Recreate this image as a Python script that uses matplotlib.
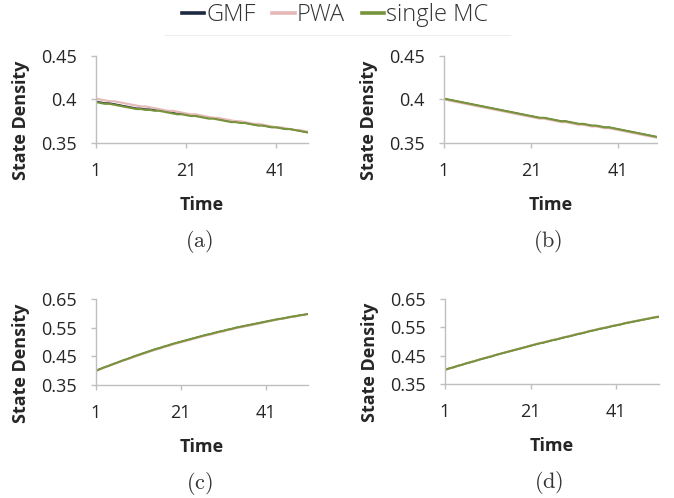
import matplotlib.pyplot as plt
from matplotlib.lines import Line2D

W, H = 674, 498
plt.rcParams['font.family'] = ['Open Sans', 'DejaVu Sans']
plt.rcParams['mathtext.fontset'] = 'cm'

# ---- data ----
t_a = list(range(1, 49))
gmf_a = [0.398, 0.397, 0.396, 0.396, 0.395, 0.394, 0.393, 0.392, 0.391, 0.390, 0.390, 0.389,
         0.389, 0.388, 0.388, 0.387, 0.386, 0.385, 0.384, 0.384, 0.383, 0.382, 0.382, 0.381,
         0.380, 0.379, 0.379, 0.378, 0.377, 0.376, 0.375, 0.375, 0.374, 0.373, 0.372, 0.371,
         0.371, 0.370, 0.369, 0.368, 0.368, 0.367, 0.366, 0.366, 0.365, 0.364, 0.363, 0.362]
pwa_a = [0.401, 0.400, 0.399, 0.398, 0.398, 0.397, 0.396, 0.395, 0.394, 0.393, 0.392, 0.392,
         0.391, 0.390, 0.389, 0.388, 0.387, 0.387, 0.386, 0.385, 0.384, 0.383, 0.383, 0.382,
         0.381, 0.380, 0.379, 0.379, 0.378, 0.377, 0.376, 0.375, 0.375, 0.374, 0.373, 0.372,
         0.372, 0.371, 0.370, 0.369, 0.368, 0.368, 0.367, 0.366, 0.365, 0.365, 0.364, 0.363]
mc_a = [0.397, 0.396, 0.395, 0.395, 0.394, 0.393, 0.392, 0.391, 0.390, 0.389, 0.389, 0.388,
        0.388, 0.387, 0.387, 0.386, 0.385, 0.384, 0.383, 0.383, 0.382, 0.381, 0.381, 0.380,
        0.379, 0.378, 0.378, 0.377, 0.376, 0.375, 0.374, 0.374, 0.373, 0.373, 0.372, 0.371,
        0.370, 0.370, 0.369, 0.368, 0.368, 0.367, 0.366, 0.366, 0.365, 0.364, 0.363, 0.362]

t_b = list(range(1, 51))
gmf_b = [0.401, 0.400, 0.399, 0.398, 0.397, 0.396, 0.395, 0.394, 0.393, 0.392,
         0.391, 0.390, 0.389, 0.388, 0.387, 0.386, 0.385, 0.384, 0.383, 0.382,
         0.381, 0.380, 0.379, 0.379, 0.378, 0.377, 0.376, 0.375, 0.375, 0.374,
         0.373, 0.372, 0.372, 0.371, 0.370, 0.370, 0.369, 0.368, 0.368, 0.367,
         0.366, 0.365, 0.364, 0.363, 0.362, 0.361, 0.360, 0.359, 0.358, 0.357]
pwa_b = [0.400, 0.399, 0.398, 0.397, 0.396, 0.395, 0.394, 0.393, 0.392, 0.391,
         0.390, 0.389, 0.388, 0.387, 0.386, 0.385, 0.384, 0.383, 0.382, 0.381,
         0.380, 0.379, 0.378, 0.378, 0.377, 0.376, 0.375, 0.374, 0.374, 0.373,
         0.372, 0.371, 0.371, 0.370, 0.369, 0.369, 0.368, 0.367, 0.367, 0.366,
         0.365, 0.364, 0.363, 0.362, 0.361, 0.360, 0.359, 0.358, 0.357, 0.356]
mc_b = [0.401, 0.400, 0.399, 0.398, 0.397, 0.396, 0.395, 0.394, 0.393, 0.392,
        0.391, 0.390, 0.389, 0.388, 0.387, 0.386, 0.385, 0.384, 0.383, 0.382,
        0.381, 0.380, 0.379, 0.379, 0.378, 0.377, 0.376, 0.375, 0.375, 0.374,
        0.373, 0.372, 0.372, 0.371, 0.370, 0.370, 0.369, 0.368, 0.368, 0.367,
        0.366, 0.365, 0.364, 0.363, 0.362, 0.361, 0.360, 0.359, 0.358, 0.357]

t_c = list(range(1, 52))
gmf_c = [0.400, 0.406, 0.412, 0.417, 0.423, 0.428, 0.434, 0.439, 0.444, 0.450,
         0.455, 0.460, 0.465, 0.470, 0.475, 0.479, 0.484, 0.488, 0.493, 0.497,
         0.501, 0.505, 0.509, 0.513, 0.517, 0.521, 0.525, 0.528, 0.532, 0.536,
         0.539, 0.543, 0.546, 0.550, 0.553, 0.556, 0.559, 0.562, 0.565, 0.568,
         0.571, 0.574, 0.577, 0.580, 0.582, 0.585, 0.588, 0.590, 0.593, 0.595, 0.598]
pwa_c = [0.399, 0.405, 0.411, 0.416, 0.422, 0.427, 0.433, 0.438, 0.443, 0.448,
         0.453, 0.458, 0.463, 0.468, 0.473, 0.477, 0.482, 0.486, 0.491, 0.495,
         0.499, 0.503, 0.507, 0.511, 0.515, 0.519, 0.523, 0.526, 0.530, 0.534,
         0.537, 0.541, 0.544, 0.548, 0.551, 0.554, 0.557, 0.560, 0.563, 0.566,
         0.570, 0.573, 0.576, 0.579, 0.581, 0.584, 0.587, 0.589, 0.592, 0.595, 0.598]
mc_c = [0.400, 0.406, 0.412, 0.417, 0.423, 0.428, 0.434, 0.439, 0.444, 0.450,
        0.455, 0.460, 0.465, 0.470, 0.475, 0.479, 0.484, 0.488, 0.493, 0.497,
        0.501, 0.505, 0.509, 0.513, 0.517, 0.521, 0.525, 0.528, 0.532, 0.536,
        0.539, 0.543, 0.546, 0.550, 0.553, 0.556, 0.559, 0.562, 0.565, 0.568,
        0.571, 0.574, 0.577, 0.580, 0.582, 0.585, 0.588, 0.590, 0.593, 0.595, 0.598]

t_d = list(range(1, 52))
gmf_d = [0.400, 0.405, 0.409, 0.414, 0.418, 0.423, 0.427, 0.431, 0.436, 0.440,
         0.444, 0.448, 0.453, 0.457, 0.461, 0.465, 0.469, 0.473, 0.477, 0.481,
         0.485, 0.489, 0.493, 0.496, 0.500, 0.504, 0.507, 0.511, 0.515, 0.518,
         0.522, 0.526, 0.529, 0.533, 0.537, 0.540, 0.544, 0.547, 0.550, 0.554,
         0.557, 0.560, 0.564, 0.567, 0.570, 0.573, 0.576, 0.579, 0.582, 0.585, 0.587]
pwa_d = [0.400, 0.405, 0.409, 0.414, 0.418, 0.423, 0.427, 0.432, 0.436, 0.440,
         0.445, 0.449, 0.453, 0.457, 0.461, 0.465, 0.469, 0.473, 0.477, 0.481,
         0.486, 0.490, 0.494, 0.497, 0.501, 0.505, 0.508, 0.512, 0.516, 0.519,
         0.523, 0.527, 0.530, 0.534, 0.538, 0.541, 0.545, 0.548, 0.551, 0.555,
         0.558, 0.561, 0.565, 0.568, 0.571, 0.574, 0.577, 0.580, 0.583, 0.586, 0.589]
mc_d = [0.400, 0.405, 0.409, 0.414, 0.418, 0.423, 0.427, 0.431, 0.436, 0.440,
        0.444, 0.448, 0.453, 0.457, 0.461, 0.465, 0.469, 0.473, 0.477, 0.481,
        0.485, 0.489, 0.493, 0.496, 0.500, 0.504, 0.507, 0.511, 0.515, 0.518,
        0.522, 0.526, 0.529, 0.533, 0.537, 0.540, 0.544, 0.547, 0.550, 0.554,
        0.557, 0.560, 0.564, 0.567, 0.570, 0.573, 0.576, 0.579, 0.582, 0.585, 0.587]

series_names = ['GMF', 'PWA', 'single MC']
colors = ['#1c2740', '#e6b8b7', '#77933c']
widths = [1.0, 1.5, 1.5]
xticks = [1, 21, 41]
yticks_top = [0.35, 0.4, 0.45]
yticks_bot = [0.35, 0.45, 0.55, 0.65]

# panel: (t, series, yticks, box in pixels: left, top, right, bottom, caption)
panels = [
    (t_a, [gmf_a, pwa_a, mc_a], yticks_top, (96, 56, 308, 143), '(a)'),
    (t_b, [gmf_b, pwa_b, mc_b], yticks_top, (444, 56, 657, 143), '(b)'),
    (t_c, [gmf_c, pwa_c, mc_c], yticks_bot, (96, 299, 308, 385), '(c)'),
    (t_d, [gmf_d, pwa_d, mc_d], yticks_bot, (445, 299, 659, 384), '(d)'),
]

fig = plt.figure(figsize=(W / 100, H / 100), dpi=100)
axis_gray = '#bfbfbf'

for t, ys, yt, box, cap in panels:
    l, tp, r, b = box
    ax = fig.add_axes([l / W, 1 - b / H, (r - l) / W, (b - tp) / H])
    for y, c, w in zip(ys, colors, widths):
        ax.plot(t, y, color=c, lw=w, solid_capstyle='butt')
    ax.set_xlim(t[0], t[-1])
    ax.set_ylim(yt[0], yt[-1])
    ax.set_xticks(xticks)
    ax.set_yticks(yt)
    ax.set_yticklabels(['%g' % v for v in yt])
    for s in ['top', 'right']:
        ax.spines[s].set_visible(False)
    for s in ['left', 'bottom']:
        ax.spines[s].set_color(axis_gray)
        ax.spines[s].set_linewidth(1.0)
    ax.tick_params(axis='both', colors=axis_gray, length=3.6, width=1.0,
                   labelsize=13, labelcolor='#262626')
    ax.tick_params(axis='y', pad=10)
    ax.tick_params(axis='x', pad=10)
    ax.patch.set_alpha(0)
    cx = (l + r) / 2
    cy = (tp + b) / 2
    fig.text((l - 75) / W, 1 - (cy + 21) / H, 'State Density', rotation=90,
             ha='center', va='center', fontsize=13, fontweight='bold', color='#262626')
    fig.text(cx / W, 1 - (b + 62) / H, 'Time', ha='center', va='center',
             fontsize=13, fontweight='bold', color='#262626')
    fig.text((cx - 3) / W, 1 - (b + 98) / H, r'$\mathrm{' + cap + '}$', ha='center',
             va='center', fontsize=16, color='#333333')

# legend on top
handles = [Line2D([], [], color=c, lw=2.6) for c in colors]
fig.legend(handles, series_names, loc='center', bbox_to_anchor=(335 / W, 1 - 15 / H),
           ncol=3, frameon=False, handlelength=0.95, handletextpad=0.1,
           columnspacing=0.7, labelcolor='#333333', prop={'size': 17, 'weight': 'light'})
fig.add_artist(Line2D([165 / W, 510 / W], [1 - 35 / H, 1 - 35 / H], color='#eeeeee', lw=0.8))

fig.savefig('out.png', dpi=100)
